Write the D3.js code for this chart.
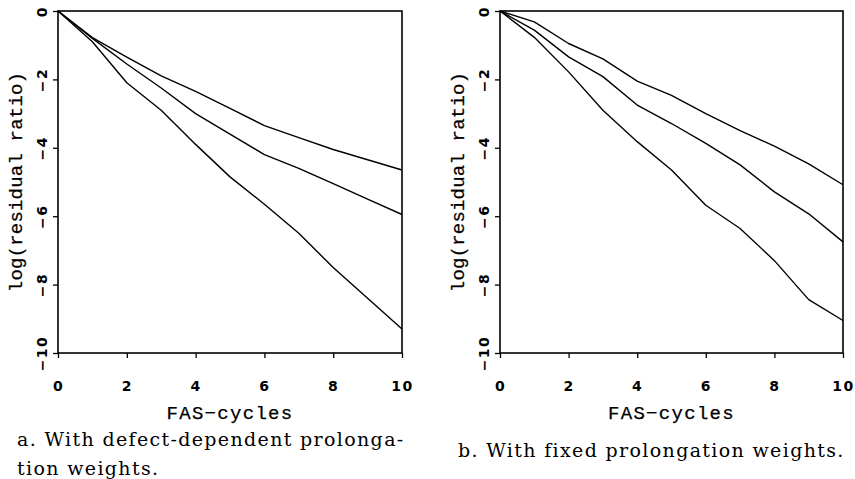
<!DOCTYPE html>
<html>
<head>
<meta charset="utf-8">
<script src="https://cdn.jsdelivr.net/npm/d3@7"></script>
<style>
  body { margin: 0; background: #fff; }
  .tick text { font-family: "DejaVu Sans", sans-serif; font-weight: bold; font-size: 14px; letter-spacing: 1.5px; }
  .axis-title { font-family: "Liberation Mono", monospace; font-size: 19px; stroke: black; stroke-width: 0.25px; }
  .caption { font-family: "DejaVu Serif", serif; font-size: 19px; letter-spacing: 1.35px; }
</style>
</head>
<body>
<div id="chart"></div>
<script>
// Set information for frame
const FRAME_WIDTH = 855;
const FRAME_HEIGHT = 479;

// Data: FAS-cycles and log(residual ratio)
const cycles = [0, 1, 2, 3, 4, 5, 6, 7, 8, 9, 10];

// a. defect-dependent prolongation weights
const defectTop    = [0, -0.78, -1.35, -1.9, -2.35, -2.85, -3.35, -3.7, -4.05, -4.35, -4.65];
const defectMiddle = [0, -0.8, -1.55, -2.25, -3.0, -3.6, -4.2, -4.6, -5.05, -5.5, -5.95];
const defectBottom = [0, -0.9, -2.1, -2.9, -3.9, -4.85, -5.65, -6.5, -7.5, -8.4, -9.3];

// b. fixed prolongation weights
const fixedTop    = [0, -0.32, -0.95, -1.4, -2.05, -2.47, -3.0, -3.5, -3.95, -4.47, -5.08];
const fixedMiddle = [0, -0.56, -1.34, -1.92, -2.75, -3.29, -3.87, -4.5, -5.29, -5.93, -6.75];
const fixedBottom = [0, -0.77, -1.78, -2.9, -3.82, -4.65, -5.68, -6.36, -7.3, -8.44, -9.05];

const xTicks = [0, 2, 4, 6, 8, 10];
const yTicks = [0, -2, -4, -6, -8, -10];

const panels = [
  {left: 58, right: 402, series: [defectTop, defectMiddle, defectBottom],
   caption: ["a. With defect-dependent prolonga-", "tion weights."], capX: 17, capY: [439, 468]},
  {left: 500, right: 843, series: [fixedTop, fixedMiddle, fixedBottom],
   caption: ["b. With fixed prolongation weights."], capX: 458, capY: [450]}
];

const TOP = 11;
const BOTTOM = 353;

const FRAME = d3.select("#chart")
                .append("svg")
                  .attr("width", FRAME_WIDTH)
                  .attr("height", FRAME_HEIGHT);

const fmt = (d) => String(d).replace("-", "\u2212");

panels.forEach((p) => {
  let xScale = d3.scaleLinear().domain([0, 10]).range([p.left, p.right]);
  let yScale = d3.scaleLinear().domain([-10, 0]).range([BOTTOM, TOP]);

  // x axis
  let gx = FRAME.append("g")
      .attr("transform", "translate(0," + BOTTOM + ")")
      .call(d3.axisBottom(xScale).tickValues(xTicks).tickSize(5).tickPadding(23).tickFormat(fmt));
  gx.select(".domain").remove();
  gx.selectAll(".tick line").attr("stroke-width", 1.3);

  // y axis, rotated labels
  let gy = FRAME.append("g")
      .attr("transform", "translate(" + p.left + ",0)")
      .call(d3.axisLeft(yScale).tickValues(yTicks).tickSize(5).tickFormat(fmt));
  gy.select(".domain").remove();
  gy.selectAll(".tick line").attr("stroke-width", 1.3);
  gy.selectAll(".tick text")
      .attr("x", null).attr("dy", null)
      .attr("text-anchor", "middle")
      .attr("dominant-baseline", "central")
      .attr("transform", "translate(-16,0) rotate(-90)");

  // box
  FRAME.append("rect")
      .attr("x", p.left).attr("y", TOP)
      .attr("width", p.right - p.left).attr("height", BOTTOM - TOP)
      .attr("fill", "none").attr("stroke", "black").attr("stroke-width", 1.6);

  // curves
  let line = d3.line()
      .x((d, i) => xScale(cycles[i]))
      .y((d) => yScale(d));

  p.series.forEach((s) => {
    FRAME.append("path")
        .datum(s)
        .attr("d", line)
        .attr("fill", "none")
        .attr("stroke", "black")
        .attr("stroke-width", 1.4)
        .attr("stroke-linejoin", "round");
  });

  // axis titles
  FRAME.append("text")
      .attr("class", "axis-title")
      .attr("x", (p.left + p.right) / 2).attr("y", 414)
      .attr("text-anchor", "middle").attr("dominant-baseline", "central")
      .style("letter-spacing", "1.3px")
      .text("FAS\u2212cycles");

  FRAME.append("text")
      .attr("class", "axis-title")
      .attr("transform", "translate(" + (p.left - 41) + "," + ((TOP + BOTTOM) / 2) + ") rotate(-90)")
      .attr("text-anchor", "middle").attr("dominant-baseline", "central")
      .style("letter-spacing", "0.2px")
      .text("log(residual ratio)");

  // captions
  p.caption.forEach((c, i) => {
    FRAME.append("text")
        .attr("class", "caption")
        .attr("x", p.capX).attr("y", p.capY[i])
        .attr("dominant-baseline", "central")
        .text(c);
  });
});
</script>
</body>
</html>
